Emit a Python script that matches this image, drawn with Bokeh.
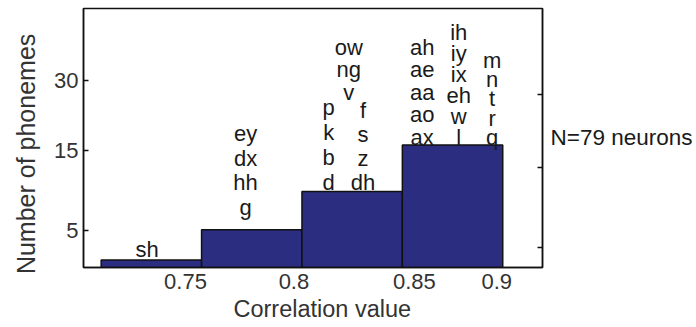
from bokeh.plotting import figure
from bokeh.models import Range1d, LinearAxis, FixedTicker, Title, ColumnDataSource
from bokeh.embed import file_html
from bokeh.resources import INLINE
from bokeh.core.properties import value

# ---------------- data ----------------
bin_centers = [0.73, 0.78, 0.83, 0.88]
bin_width = 0.05
bar_heights = [1.34, 5.12, 9.91, 15.7]

x_tick_positions = [0.747, 0.801, 0.861, 0.902]
x_tick_labels = ["0.75", "0.8", "0.85", "0.9"]
y_tick_positions = [5, 15, 23.7]
y_tick_labels = ["5", "15", "30"]
right_tick_positions = [2.9, 12.9, 22.0]

phoneme_columns = [
    ["sh"],
    ["ey", "dx", "hh", "g"],
    ["p", "k", "b", "d"],
    ["ow", "ng", "v"],
    ["f", "s", "z", "dh"],
    ["ah", "ae", "aa", "ao", "ax"],
    ["ih", "iy", "ix", "eh", "w", "l"],
    ["m", "n", "t", "r", "q"],
]
neuron_note = "N=79 neurons"
note_position = 16.66
x_title = "Correlation value"
y_title = "Number of phonemes"

# ---------------- layout / positions ----------------
col_x = [0.7279, 0.7769, 0.8183, 0.8283, 0.8354, 0.8649, 0.8831, 0.8997]
col_top = [2.71, 17.09, 20.41, 27.91, 20.0, 27.91, 29.79, 26.25]
col_bottom = [2.71, 7.91, 11.04, 22.29, 11.04, 16.66, 16.66, 16.66]

FONT = "Liberation Sans"
BAR_COLOR = "#2B2E80"
INK = "#111111"

p = figure(width=696, height=327, output_backend="svg", toolbar_location=None,
           x_range=Range1d(0.6962, 0.9248), y_range=Range1d(0.41, 32.75),
           min_border_left=83, min_border_right=154, min_border_top=8,
           min_border_bottom=60)
p.background_fill_color = "white"
p.border_fill_color = "white"
p.outline_line_color = INK
p.outline_line_width = 1.5
p.xgrid.visible = False
p.ygrid.visible = False

# bars
base = p.y_range.start
src = ColumnDataSource(dict(x=bin_centers, top=bar_heights,
                            bottom=[base] * len(bar_heights)))
p.vbar(x="x", top="top", bottom="bottom", width=bin_width, source=src,
       fill_color=BAR_COLOR, line_color=INK, line_width=1.5)

# phoneme labels
tx, ty, tt = [], [], []
for col, x, top, bot in zip(phoneme_columns, col_x, col_top, col_bottom):
    n = len(col)
    step = (top - bot) / (n - 1) if n > 1 else 0
    for i, ph in enumerate(col):
        tx.append(x)
        ty.append(top - i * step)
        tt.append(ph)
p.text(x=tx, y=ty, text=tt, text_font=value(FONT), text_font_size="22px",
       text_align="center", text_baseline="alphabetic", text_color="#1a1a1a")

# axes
xa = p.xaxis[0]
xa.ticker = FixedTicker(ticks=x_tick_positions)
xa.major_label_overrides = {t: l for t, l in zip(x_tick_positions, x_tick_labels)}
xa.major_tick_line_color = None
xa.major_tick_in = 0
xa.major_tick_out = 0
xa.minor_tick_line_color = None
xa.axis_line_color = INK
xa.axis_line_width = 1.5
xa.major_label_standoff = 6
xa.major_label_text_font = FONT
xa.major_label_text_font_size = "22px"
xa.major_label_text_color = "#333333"

ya = p.yaxis[0]
ya.ticker = FixedTicker(ticks=y_tick_positions)
ya.major_label_overrides = {t: l for t, l in zip(y_tick_positions, y_tick_labels)}
ya.major_tick_in = 5
ya.major_tick_out = 0
ya.major_tick_line_color = INK
ya.major_tick_line_width = 1.5
ya.minor_tick_line_color = None
ya.axis_line_color = INK
ya.axis_line_width = 1.5
ya.major_label_standoff = 5
ya.major_label_text_font = FONT
ya.major_label_text_font_size = "22px"
ya.major_label_text_color = "#333333"

ra = LinearAxis(ticker=FixedTicker(ticks=right_tick_positions))
ra.major_label_overrides = {t: "" for t in right_tick_positions}
ra.major_label_text_font_size = "1px"
ra.major_label_standoff = 0
ra.major_tick_in = 5
ra.major_tick_out = 0
ra.major_tick_line_color = INK
ra.major_tick_line_width = 1.5
ra.minor_tick_line_color = None
ra.axis_line_color = INK
ra.axis_line_width = 1.5
p.add_layout(ra, "right")

# note on the right, carried by a bare axis
na = LinearAxis(ticker=FixedTicker(ticks=[note_position]))
na.major_label_overrides = {note_position: neuron_note}
na.axis_line_color = None
na.major_tick_line_color = None
na.minor_tick_line_color = None
na.major_tick_in = 0
na.major_tick_out = 0
na.major_label_standoff = 8
na.major_label_text_font = FONT
na.major_label_text_font_size = "22.5px"
na.major_label_text_color = "#1a1a1a"
p.add_layout(na, "right")

# axis titles
p.add_layout(Title(text=x_title, align="left", offset=150, standoff=8,
                   vertical_align="top", text_font=FONT,
                   text_font_size="23.5px", text_font_style="normal",
                   text_color="#333333"), "below")
p.add_layout(Title(text=y_title, align="left", offset=-6.6, standoff=20,
                   vertical_align="top", text_font=FONT,
                   text_font_size="25px", text_font_style="normal",
                   text_color="#333333"), "left")

open("out.html", "w").write(file_html(p, INLINE))
